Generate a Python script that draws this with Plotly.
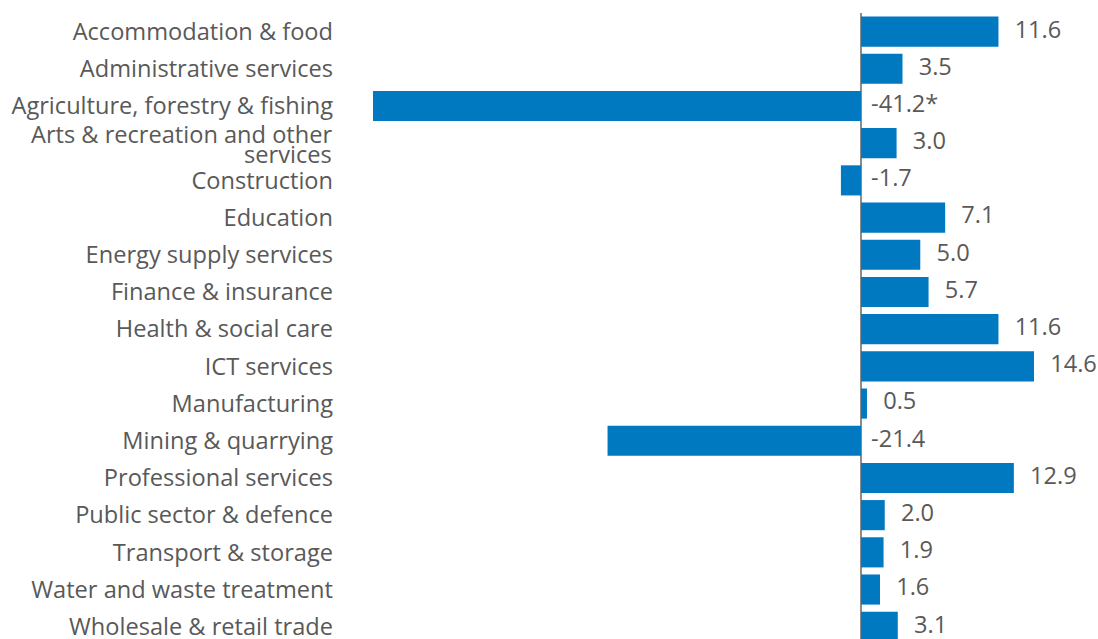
import plotly.graph_objects as go

categories = [
    "Accommodation & food",
    "Administrative services",
    "Agriculture, forestry & fishing",
    "Arts & recreation and other<br>services",
    "Construction",
    "Education",
    "Energy supply services",
    "Finance & insurance",
    "Health & social care",
    "ICT services",
    "Manufacturing",
    "Mining & quarrying",
    "Professional services",
    "Public sector & defence",
    "Transport & storage",
    "Water and waste treatment",
    "Wholesale & retail trade",
]
values = [11.6, 3.5, -41.2, 3.0, -1.7, 7.1, 5.0, 5.7, 11.6, 14.6, 0.5, -21.4, 12.9, 2.0, 1.9, 1.6, 3.1]
value_labels = ["11.6", "3.5", "-41.2*", "3.0", "-1.7", "7.1", "5.0", "5.7", "11.6", "14.6",
                "0.5", "-21.4", "12.9", "2.0", "1.9", "1.6", "3.1"]

BAR = "#0079C1"
TXT = "#595959"
FONT = "Open Sans"
FS = 23.6
STANDOFF = 39

label_x = [max(v, 0) for v in values]
label_text = [("\u00a0\u00a0\u2009" + t) if v > 0 else ("\u00a0\u2009" + t) for v, t in zip(values, value_labels)]

# wrapped labels drawn as separate lines with tighter spacing
ticktext = ["" if "<br>" in c else c for c in categories]

fig = go.Figure()
fig.add_trace(go.Bar(
    x=values, y=categories, orientation="h",
    marker=dict(color=BAR, line=dict(width=0)),
    hoverinfo="skip",
))
fig.add_trace(go.Scatter(
    x=label_x, y=categories, mode="text",
    text=label_text, textposition="middle right",
    textfont=dict(family=FONT, size=FS, color=TXT),
    cliponaxis=False, hoverinfo="skip",
))

annotations = []
for i, c in enumerate(categories):
    if "<br>" in c:
        lines = c.split("<br>")
        shifts = [9, -11]
        for ln, sh in zip(lines, shifts):
            annotations.append(dict(
                xref="paper", x=0, yref="y", y=i, text=ln, showarrow=False,
                xanchor="right", yanchor="middle", xshift=-STANDOFF, yshift=sh,
                font=dict(family=FONT, size=FS, color=TXT),
            ))

fig.update_layout(
    width=1098, height=639,
    margin=dict(l=373, r=64, t=13, b=0, autoexpand=False),
    paper_bgcolor="white", plot_bgcolor="white",
    showlegend=False, bargap=0.19,
    font=dict(family=FONT, size=FS, color=TXT),
    annotations=annotations,
)
fig.update_xaxes(
    range=[-41.2, 14.6], showgrid=False, showticklabels=False, ticks="",
    zeroline=True, zerolinecolor="#8c8c8c", zerolinewidth=1.5, showline=False,
    automargin=False,
)
fig.update_yaxes(
    type="category", categoryorder="array", categoryarray=categories,
    tickmode="array", tickvals=categories, ticktext=ticktext,
    range=[16.33, -0.5], showgrid=False, ticks="", showline=False,
    ticklabelstandoff=STANDOFF, tickfont=dict(family=FONT, size=FS, color=TXT),
    automargin=False,
)

fig.write_html(
    "out.html",
    config={"displayModeBar": False},
    post_script="document.body.style.margin='0';document.body.style.overflow='hidden';",
)
